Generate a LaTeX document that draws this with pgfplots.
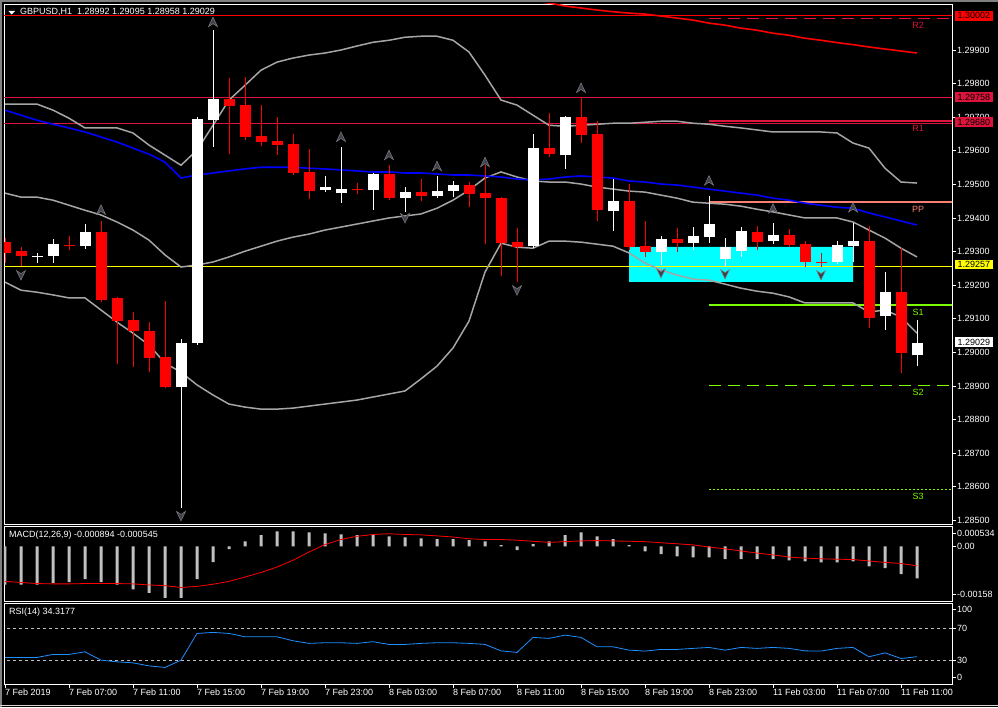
\documentclass[border=0pt]{standalone}
\usepackage{fontspec}
\setmainfont{Liberation Sans}
\usepackage{pgfplots}
\usepackage{pgfplotstable}
\pgfplotsset{compat=1.18}

\definecolor{bbgray}{RGB}{165,165,165}
\definecolor{crim}{RGB}{220,20,60}
\definecolor{lgreen}{RGB}{124,252,0}
\definecolor{ppcol}{RGB}{250,128,114}
\definecolor{rsiblue}{RGB}{30,144,255}
\definecolor{histgray}{RGB}{192,192,192}
\definecolor{fract}{RGB}{62,66,78}
\definecolor{frame}{RGB}{128,128,128}
\definecolor{aqua}{RGB}{0,255,255}
\definecolor{yell}{RGB}{255,255,0}

% fractal arrows
\pgfdeclareplotmark{fup}{%
  \pgfpathmoveto{\pgfpoint{0pt}{5pt}}%
  \pgfpathlineto{\pgfpoint{4.5pt}{-4.5pt}}%
  \pgfpathlineto{\pgfpoint{0pt}{-1.5pt}}%
  \pgfpathlineto{\pgfpoint{-4.5pt}{-4.5pt}}%
  \pgfpathclose\pgfusepathqfillstroke}
\pgfdeclareplotmark{fdown}{%
  \pgfpathmoveto{\pgfpoint{0pt}{-5pt}}%
  \pgfpathlineto{\pgfpoint{4.5pt}{4.5pt}}%
  \pgfpathlineto{\pgfpoint{0pt}{1.5pt}}%
  \pgfpathlineto{\pgfpoint{-4.5pt}{4.5pt}}%
  \pgfpathclose\pgfusepathqfillstroke}

% GBPUSD H1 candles, split by colour
\pgfplotstableread{
i o h l c
2 1.29285 1.29296 1.29266 1.29288
3 1.29287 1.29337 1.29267 1.29322
5 1.29317 1.29382 1.29307 1.29357
11 1.28898 1.29040 1.28536 1.29028
12 1.29029 1.29700 1.29022 1.29696
13 1.29691 1.29959 1.29612 1.29755
20 1.29483 1.29525 1.29477 1.29492
21 1.29475 1.29612 1.29445 1.29486
23 1.29483 1.29534 1.29424 1.29532
25 1.29459 1.29492 1.29418 1.29477
27 1.29465 1.29526 1.29459 1.29480
28 1.29480 1.29510 1.29462 1.29498
33 1.29316 1.29650 1.29310 1.29608
35 1.29588 1.29703 1.29546 1.29700
38 1.29421 1.29516 1.29362 1.29450
41 1.29299 1.29346 1.29260 1.29337
43 1.29326 1.29373 1.29305 1.29346
44 1.29344 1.29465 1.29326 1.29382
45 1.29277 1.29341 1.29255 1.29313
46 1.29302 1.29373 1.29285 1.29361
48 1.29332 1.29386 1.29323 1.29349
52 1.29270 1.29331 1.29263 1.29319
53 1.29317 1.29384 1.29269 1.29332
55 1.29109 1.29239 1.29067 1.29179
57 1.28992 1.29095 1.28958 1.29029
}\bull

\pgfplotstableread{
i o h l c
0 1.29328 1.29340 1.29266 1.29296
1 1.29302 1.29313 1.29257 1.29287
4 1.29321 1.29346 1.29304 1.29316
6 1.29358 1.29392 1.29150 1.29156
7 1.29162 1.29165 1.28965 1.29094
8 1.29096 1.29120 1.28957 1.29063
9 1.29063 1.29090 1.28942 1.28984
10 1.28986 1.29153 1.28893 1.28898
14 1.29755 1.29816 1.29591 1.29733
15 1.29736 1.29819 1.29632 1.29641
16 1.29644 1.29736 1.29615 1.29627
17 1.29629 1.29700 1.29587 1.29617
18 1.29620 1.29650 1.29528 1.29534
19 1.29537 1.29604 1.29456 1.29480
22 1.29487 1.29504 1.29471 1.29484
24 1.29531 1.29558 1.29453 1.29459
26 1.29477 1.29516 1.29450 1.29465
29 1.29498 1.29507 1.29432 1.29471
30 1.29474 1.29557 1.29323 1.29459
31 1.29459 1.29462 1.29227 1.29326
32 1.29328 1.29370 1.29208 1.29313
34 1.29608 1.29712 1.29582 1.29591
36 1.29700 1.29760 1.29624 1.29647
37 1.29650 1.29688 1.29392 1.29424
39 1.29450 1.29501 1.29304 1.29314
40 1.29316 1.29391 1.29285 1.29299
42 1.29337 1.29370 1.29299 1.29326
47 1.29358 1.29376 1.29305 1.29329
49 1.29349 1.29367 1.29314 1.29320
50 1.29322 1.29331 1.29255 1.29270
51 1.29270 1.29295 1.29255 1.29267
54 1.29332 1.29376 1.29073 1.29103
56 1.29179 1.29312 1.28938 1.28998
}\bear

% Bollinger bands (20) and moving average
\pgfplotstableread{
i up mid lo ma
0 1.29739 1.29474 1.29209 1.29721
1 1.29739 1.29462 1.29185 1.29706
2 1.29739 1.29462 1.29179 1.29691
3 1.29721 1.29453 1.29171 1.29679
4 1.29697 1.29438 1.29162 1.29668
5 1.29668 1.29423 1.29162 1.29656
6 1.29668 1.29409 1.29126 1.29641
7 1.29668 1.29388 1.29090 1.29626
8 1.29653 1.29364 1.29057 1.29608
9 1.29617 1.29334 1.29022 1.29590
10 1.29587 1.29290 1.28968 1.29566
11 1.29557 1.29254 1.28941 1.29519
12 1.29602 1.29260 1.28903 1.29528
13 1.29676 1.29269 1.28873 1.29534
14 1.29751 1.29284 1.28846 1.29540
15 1.29795 1.29301 1.28837 1.29546
16 1.29840 1.29316 1.28831 1.29551
17 1.29864 1.29331 1.28831 1.29551
18 1.29876 1.29343 1.28834 1.29551
19 1.29885 1.29352 1.28840 1.29548
20 1.29891 1.29364 1.28846 1.29546
21 1.29900 1.29373 1.28852 1.29543
22 1.29912 1.29382 1.28858 1.29540
23 1.29923 1.29391 1.28867 1.29537
24 1.29929 1.29400 1.28876 1.29537
25 1.29938 1.29406 1.28885 1.29534
26 1.29941 1.29412 1.28921 1.29534
27 1.29941 1.29429 1.28959 1.29531
28 1.29929 1.29453 1.29013 1.29528
29 1.29894 1.29483 1.29093 1.29528
30 1.29825 1.29519 1.29239 1.29525
31 1.29751 1.29537 1.29325 1.29522
32 1.29736 1.29522 1.29313 1.29516
33 1.29706 1.29510 1.29310 1.29513
34 1.29676 1.29507 1.29331 1.29516
35 1.29673 1.29507 1.29331 1.29522
36 1.29676 1.29501 1.29328 1.29525
37 1.29679 1.29492 1.29322 1.29522
38 1.29682 1.29486 1.29316 1.29519
39 1.29682 1.29480 1.29296 1.29510
40 1.29685 1.29477 1.29266 1.29507
41 1.29688 1.29468 1.29245 1.29501
42 1.29688 1.29459 1.29230 1.29498
43 1.29682 1.29447 1.29218 1.29492
44 1.29679 1.29444 1.29215 1.29486
45 1.29673 1.29441 1.29203 1.29480
46 1.29668 1.29435 1.29191 1.29474
47 1.29662 1.29426 1.29182 1.29468
48 1.29656 1.29418 1.29176 1.29459
49 1.29656 1.29409 1.29165 1.29453
50 1.29656 1.29400 1.29147 1.29444
51 1.29656 1.29400 1.29147 1.29438
52 1.29653 1.29400 1.29147 1.29432
53 1.29623 1.29388 1.29147 1.29429
54 1.29608 1.29364 1.29120 1.29415
55 1.29548 1.29340 1.29126 1.29403
56 1.29507 1.29310 1.29105 1.29391
57 1.29504 1.29284 1.29057 1.29379
}\bands

\pgfplotstableread{
i m
30 1.30078
31 1.30066
32 1.30054
33 1.30045
34 1.30040
35 1.30031
36 1.30025
37 1.30019
38 1.30014
39 1.30010
40 1.30007
41 1.30001
42 1.29995
43 1.29989
44 1.29980
45 1.29974
46 1.29965
47 1.29959
48 1.29950
49 1.29944
50 1.29935
51 1.29929
52 1.29922
53 1.29916
54 1.29909
55 1.29903
56 1.29897
57 1.29891
}\slowma

% MACD histogram, signal, RSI(14)
\pgfplotstableread{
i hist sig rsi
0 -0.00107 -0.00098 33.4
1 -0.00107 -0.00101 33.4
2 -0.00107 -0.00104 33.4
3 -0.00102 -0.00105 37.2
4 -0.00100 -0.00105 37.2
5 -0.00092 -0.00104 40.5
6 -0.00100 -0.00104 30.0
7 -0.00107 -0.00104 27.9
8 -0.00120 -0.00105 26.6
9 -0.00130 -0.00108 22.8
10 -0.00144 -0.00110 20.8
11 -0.00144 -0.00115 30.0
12 -0.00092 -0.00112 63.6
13 -0.00044 -0.00106 64.9
14 -0.00008 -0.00098 63.6
15 0.00014 -0.00086 59.4
16 0.00031 -0.00073 59.4
17 0.00042 -0.00058 59.4
18 0.00042 -0.00039 54.4
19 0.00039 -0.00016 51.1
20 0.00036 0.00005 51.9
21 0.00033 0.00019 51.9
22 0.00031 0.00028 51.1
23 0.00031 0.00033 53.2
24 0.00028 0.00035 49.8
25 0.00025 0.00033 49.8
26 0.00022 0.00032 51.1
27 0.00020 0.00029 51.9
28 0.00020 0.00026 51.9
29 0.00017 0.00021 51.1
30 0.00014 0.00019 49.8
31 0.00003 0.00019 41.7
32 -0.00011 0.00017 39.7
33 0.00006 0.00014 58.6
34 0.00014 0.00011 57.4
35 0.00031 0.00013 61.5
36 0.00039 0.00015 58.6
37 0.00028 0.00016 46.8
38 0.00020 0.00015 46.8
39 0.00003 0.00014 42.6
40 -0.00014 0.00013 41.4
41 -0.00022 0.00010 43.5
42 -0.00028 0.00007 43.5
43 -0.00031 0.00004 44.8
44 -0.00031 -0.00002 46.0
45 -0.00036 -0.00007 42.6
46 -0.00036 -0.00013 46.0
47 -0.00036 -0.00019 44.8
48 -0.00036 -0.00024 46.0
49 -0.00039 -0.00030 44.8
50 -0.00042 -0.00033 41.7
51 -0.00045 -0.00035 41.4
52 -0.00045 -0.00036 44.8
53 -0.00042 -0.00037 46.0
54 -0.00056 -0.00041 34.2
55 -0.00061 -0.00045 39.2
56 -0.00078 -0.00048 32.1
57 -0.000894 -0.000545 34.3177
}\osc

\pgfplotsset{
  mt/.style={
    scale only axis, anchor=south west, width=948pt,
    xmin=-0.0625, xmax=59.1875,
    axis line style={white, line width=0.8pt},
    xtick=\empty, scaled y ticks=false,
    ytick pos=right, yticklabel pos=right,
    tick align=outside, major tick length=4pt,
    tick style={white, line width=0.6pt},
    ticklabel style={font=\fontsize{9}{10}\selectfont, text=white},
    yticklabel style={anchor=west, inner sep=0pt, xshift=1pt},
  },
  wick/.style={draw=none, mark=none, forget plot,
    error bars/.cd, y dir=plus, y explicit, error mark=none,
    error bar style={draw=#1, line width=1pt, solid}},
  body/.style={draw=none, mark=none, forget plot,
    error bars/.cd, y dir=plus, y explicit, error mark=none,
    error bar style={draw=#1, line width=11pt, solid}},
}

\begin{document}
\begin{tikzpicture}
\fill[black] (0,0) rectangle (998pt,707pt);

% ---- price window
\begin{axis}[mt, at={(4pt,183pt)}, height=520pt,
  ymin=1.28489, ymax=1.30037,
  ytick={1.285,1.286,1.287,1.288,1.289,1.290,1.291,1.292,1.293,1.294,1.295,1.296,1.297,1.298,1.299},
  yticklabels={1.28500,1.28600,1.28700,1.28800,1.28900,1.29000,1.29100,1.29200,1.29300,1.29400,1.29500,1.29600,1.29700,1.29800,1.29900},
]
\addplot[fill=aqua, draw=none] coordinates {(39,1.29210) (53,1.29210) (53,1.29314) (39,1.29314) (39,1.29210)};

\addplot[red, line width=1pt] coordinates {(-1,1.30002) (60,1.30002)};
\addplot[crim, line width=1pt] coordinates {(-1,1.29758) (60,1.29758)};
\addplot[crim, line width=1pt] coordinates {(-1,1.29680) (60,1.29680)};
\addplot[yell, line width=1pt] coordinates {(-1,1.29257) (60,1.29257)};

% daily pivots
\addplot[crim, line width=1pt, dash pattern=on 12pt off 7pt] coordinates {(44,1.29994) (60,1.29994)};
\addplot[crim, line width=2pt] coordinates {(44,1.29689) (60,1.29689)};
\addplot[ppcol, line width=2pt] coordinates {(44,1.29448) (60,1.29448)};
\addplot[lgreen, line width=2pt] coordinates {(44,1.29142) (60,1.29142)};
\addplot[lgreen, line width=1pt, dash pattern=on 12pt off 7pt] coordinates {(44,1.28901) (60,1.28901)};
\addplot[lgreen, line width=1pt, dash pattern=on 2pt off 2pt] coordinates {(44,1.28593) (60,1.28593)};

\addplot[bbgray, line width=1.5pt] table[x=i, y=up] {\bands};
\addplot[bbgray, line width=1.5pt] table[x=i, y=mid] {\bands};
\addplot[bbgray, line width=1.5pt] table[x=i, y=lo] {\bands};
\addplot[blue, line width=1.6pt] table[x=i, y=ma] {\bands};
\addplot[red, line width=1.6pt] table[x=i, y=m] {\slowma};

\addplot[wick=red] table[x=i, y=l, y error plus expr={\thisrow{h}-\thisrow{l}}] {\bear};
\addplot[body=red] table[x=i, y=c, y error plus expr={\thisrow{o}-\thisrow{c}}] {\bear};
\addplot[wick=white] table[x=i, y=l, y error plus expr={\thisrow{h}-\thisrow{l}}] {\bull};
\addplot[body=white] table[x=i, y=o, y error plus expr={\thisrow{c}-\thisrow{o}}] {\bull};

\addplot[only marks, mark=fup, mark options={fill=fract, draw=gray, line width=0.5pt}]
  coordinates {(6,1.29424) (13,1.29983) (21,1.29641) (24,1.29587) (27,1.29554) (30,1.29566) (36,1.29787) (44,1.29511) (48,1.29428) (53,1.29431)};
\addplot[only marks, mark=fdown, mark options={fill=fract, draw=gray, line width=0.5pt}]
  coordinates {(1,1.29230) (11,1.28513) (25,1.29400) (32,1.29185) (41,1.29236) (45,1.29233) (51,1.29230)};
\end{axis}

% ---- MACD window
\begin{axis}[mt, at={(4pt,106pt)}, height=75pt,
  ymin=-0.001528, ymax=0.000567,
  ytick={-0.001352,0,0.000363},
  yticklabels={-0.00158,0.00,0.000534},
]
\addplot[ybar, bar width=3pt, fill=histgray, draw=none] table[x=i, y=hist] {\osc};
\addplot[red, line width=0.8pt] table[x=i, y=sig] {\osc};
\end{axis}

% ---- RSI window
\begin{axis}[mt, at={(4pt,23pt)}, height=81pt,
  ymin=0, ymax=101.9,
  ytick={8.5,30,70.3,93.4},
  yticklabels={0,30,70,100},
  xtick={0,4,...,56}, xtick pos=bottom,
  xticklabels={7 Feb 2019,7 Feb 07:00,7 Feb 11:00,7 Feb 15:00,7 Feb 19:00,7 Feb 23:00,8 Feb 03:00,8 Feb 07:00,8 Feb 11:00,8 Feb 15:00,8 Feb 19:00,8 Feb 23:00,11 Feb 03:00,11 Feb 07:00,11 Feb 11:00},
  xticklabel style={anchor=north west, inner sep=0pt, yshift=-1pt},
]
\addplot[histgray, line width=0.6pt, dash pattern=on 3pt off 3pt] coordinates {(-1,30) (60,30)};
\addplot[histgray, line width=0.6pt, dash pattern=on 3pt off 3pt] coordinates {(-1,70.3) (60,70.3)};
\addplot[rsiblue, line width=0.8pt] table[x=i, y=rsi] {\osc};
\end{axis}

% ---- texts and price tags
\begin{scope}[font=\fontsize{9}{10}\selectfont]
\fill[white] (8.3pt,696pt) -- (15pt,696pt) -- (11.7pt,692.5pt) -- cycle;
\node[anchor=west, inner sep=0pt, text=white] at (20pt,695pt) {GBPUSD,H1\ \ 1.28992 1.29095 1.28958 1.29029};
\node[anchor=west, inner sep=0pt, text=white] at (9pt,171.5pt) {MACD(12,26,9) -0.000894 -0.000545};
\node[anchor=west, inner sep=0pt, text=white] at (9pt,95pt) {RSI(14) 34.3177};

\tikzset{tag/.style={anchor=west, inner xsep=2.5pt, inner ysep=1.7pt, text height=6.4pt, text depth=0pt, text=black}}
\node[tag, fill=red] at (955pt,691.3pt) {1.30002};
\node[tag, fill=crim] at (955pt,609.8pt) {1.29758};
\node[tag, fill=crim] at (955pt,585pt) {1.29680};
\node[tag, fill=yell] at (955pt,442.5pt) {1.29257};
\node[tag, fill=white] at (955pt,364.7pt) {1.29029};

\node[text=crim, inner sep=0pt] at (918pt,681.5pt) {R2};
\node[text=crim, inner sep=0pt] at (918pt,579pt) {R1};
\node[text=ppcol, inner sep=0pt] at (918pt,498pt) {PP};
\node[text=lgreen, inner sep=0pt] at (918pt,395pt) {S1};
\node[text=lgreen, inner sep=0pt] at (918pt,315pt) {S2};
\node[text=lgreen, inner sep=0pt] at (918pt,211pt) {S3};
\end{scope}

\draw[frame, line width=2pt] (1pt,0pt) -- (1pt,706pt) -- (998pt,706pt);
\draw[white!85!black, line width=1pt] (0pt,1.5pt) -- (998pt,1.5pt);

\pgfresetboundingbox
\path[use as bounding box] (0,0) rectangle (998pt,707pt);
\end{tikzpicture}
\end{document}
